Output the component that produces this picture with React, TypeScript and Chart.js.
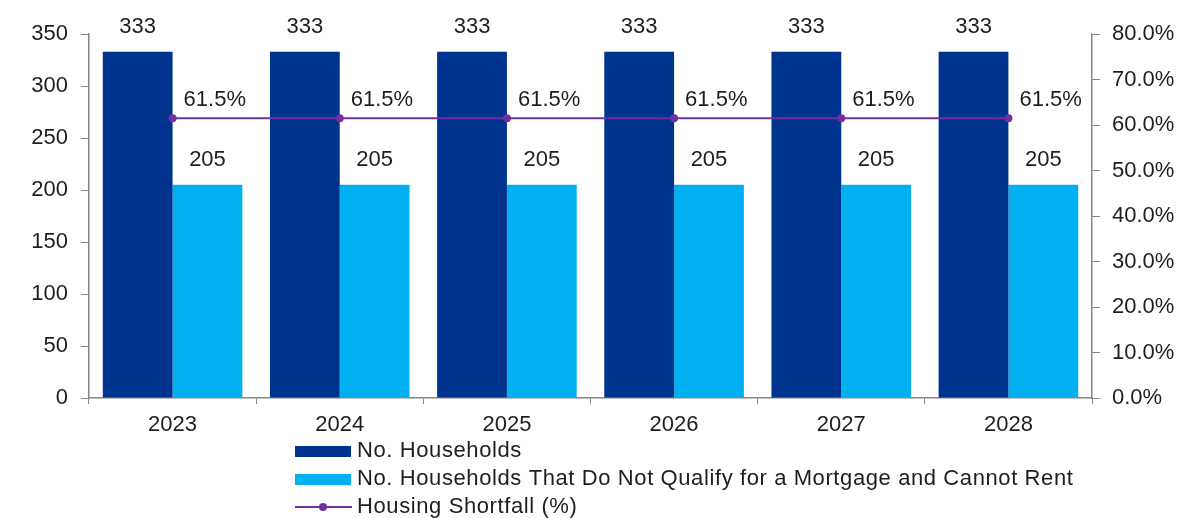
import React, { useEffect, useRef } from "react";
import { Chart, registerables } from "chart.js";

Chart.register(...registerables);

const categories = ["2023", "2024", "2025", "2026", "2027", "2028"];
const households = [333, 333, 333, 333, 333, 333];
const notQualify = [205, 205, 205, 205, 205, 205];
const shortfallPct = [61.5, 61.5, 61.5, 61.5, 61.5, 61.5];
const leftTicks = [0, 50, 100, 150, 200, 250, 300, 350];
const rightTicks = [0, 10, 20, 30, 40, 50, 60, 70, 80];

const FONT = "'Liberation Sans', Arial, sans-serif";
const FS = 22;
const TEXT = "#1e1e1e";
const AXIS = "#858585";
const DARK = "#00338D";
const LIGHT = "#00B0F0";
const PURPLE = "#7030A0";

const labelPlugin = {
  id: "labelsAndLegend",
  afterDatasetsDraw(chart: any) {
    const ctx = chart.ctx;
    ctx.save();
    ctx.font = `${FS}px ${FONT}`;
    ctx.fillStyle = TEXT;
    ctx.textBaseline = "middle";
    chart.data.datasets.forEach((ds: any, i: number) => {
      const meta = chart.getDatasetMeta(i);
      meta.data.forEach((el: any, j: number) => {
        const v = ds.data[j];
        if (ds.type === "line") {
          ctx.textAlign = "left";
          ctx.fillText(v.toFixed(1) + "%", el.x + 11, el.y - 18);
        } else {
          ctx.textAlign = "center";
          ctx.fillText(String(v), el.x, el.y - 25);
        }
      });
    });
    // legend
    const order = [1, 2, 0];
    const x0 = 295;
    const rows = [451, 479, 507];
    (ctx as any).letterSpacing = "0.6px";
    order.forEach((di, r) => {
      const ds = chart.data.datasets[di];
      const y = rows[r];
      if (ds.type === "line") {
        ctx.strokeStyle = ds.borderColor;
        ctx.lineWidth = 2;
        ctx.beginPath();
        ctx.moveTo(x0, y);
        ctx.lineTo(x0 + 57, y);
        ctx.stroke();
        ctx.fillStyle = ds.borderColor;
        ctx.beginPath();
        ctx.arc(x0 + 28, y, 4, 0, Math.PI * 2);
        ctx.fill();
      } else {
        ctx.fillStyle = ds.backgroundColor;
        ctx.fillRect(x0, y - 5, 56, 11);
      }
      ctx.fillStyle = TEXT;
      ctx.textAlign = "left";
      ctx.fillText(ds.label, x0 + 62, y);
    });
    ctx.restore();
  },
};

export default function App() {
  const ref = useRef<HTMLCanvasElement | null>(null);
  useEffect(() => {
    if (!ref.current) return;
    const chart = new Chart(ref.current, {
      type: "bar",
      data: {
        labels: categories,
        datasets: [
          {
            type: "line",
            label: "Housing Shortfall (%)",
            data: shortfallPct,
            yAxisID: "y1",
            borderColor: PURPLE,
            backgroundColor: PURPLE,
            borderWidth: 2,
            pointRadius: 4,
            pointBackgroundColor: PURPLE,
            pointBorderWidth: 0,
            order: 0,
          } as any,
          {
            type: "bar",
            label: "No. Households",
            data: households,
            yAxisID: "y",
            backgroundColor: DARK,
            categoryPercentage: 0.835,
            barPercentage: 1.0,
            order: 1,
          },
          {
            type: "bar",
            label: "No. Households That Do Not Qualify for a Mortgage and Cannot Rent",
            data: notQualify,
            yAxisID: "y",
            backgroundColor: LIGHT,
            categoryPercentage: 0.835,
            barPercentage: 1.0,
            order: 2,
          },
        ],
      },
      options: {
        responsive: false,
        animation: false,
        layout: { padding: { top: 34, left: 0, right: 0, bottom: 0 } },
        plugins: {
          legend: { display: false },
          tooltip: { enabled: false },
        },
        scales: {
          x: {
            grid: {
              display: true,
              drawOnChartArea: false,
              drawTicks: true,
              tickLength: 6,
              color: AXIS,
              offset: true,
            },
            border: { display: true, color: AXIS, width: 1.5 },
            ticks: {
              color: TEXT,
              font: { family: FONT, size: FS },
              padding: 8,
            },
            afterFit: (s: any) => {
              s.height = 120;
            },
          },
          y: {
            position: "left",
            min: 0,
            max: 350,
            afterBuildTicks: (s: any) => {
              s.ticks = leftTicks.map((v) => ({ value: v }));
            },
            grid: {
              drawOnChartArea: false,
              drawTicks: true,
              tickLength: 8,
              color: AXIS,
            },
            border: { display: true, color: AXIS, width: 1.5 },
            ticks: {
              color: TEXT,
              font: { family: FONT, size: FS },
              padding: 13,
            },
            afterFit: (s: any) => {
              s.width = 89;
            },
          },
          y1: {
            position: "right",
            min: 0,
            max: 80,
            afterBuildTicks: (s: any) => {
              s.ticks = rightTicks.map((v) => ({ value: v }));
            },
            grid: {
              drawOnChartArea: false,
              drawTicks: true,
              tickLength: 8,
              color: AXIS,
            },
            border: { display: true, color: AXIS, width: 1.5 },
            ticks: {
              color: TEXT,
              font: { family: FONT, size: FS },
              padding: 12,
              callback: (v: any) => Number(v).toFixed(1) + "%",
            },
            afterFit: (s: any) => {
              s.width = 91;
            },
          },
        },
      },
      plugins: [labelPlugin],
    });
    return () => chart.destroy();
  }, []);
  return (
    <div style={{ position: "fixed", left: 0, top: 0, width: 1183, height: 518, background: "#fff" }}>
      <canvas ref={ref} width={1183} height={518} style={{ display: "block" }} />
    </div>
  );
}
